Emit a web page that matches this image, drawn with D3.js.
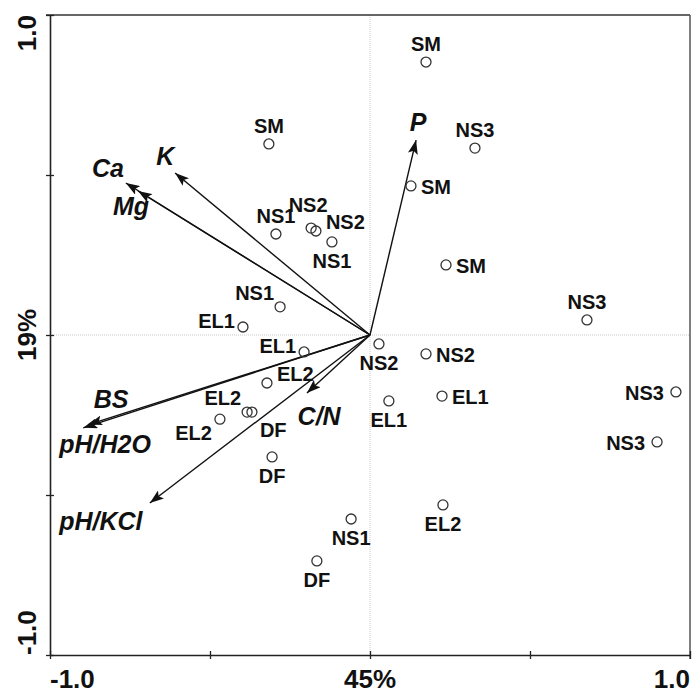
<!DOCTYPE html>
<html lang="en">
<head>
<meta charset="utf-8">
<title>PCA biplot</title>
<script src="https://d3js.org/d3.v7.min.js"></script>
<style>
  body { margin: 0; background: #fff; }
  text { font-family: "Liberation Sans", Arial, sans-serif; font-weight: bold; fill: #111; }
</style>
</head>
<body>
<script>
// sample scores (axis 1, axis 2)
var siteNames = ["SM","NS3","SM","SM","NS3","NS3","NS3","NS2","EL1","EL1","NS2","EL2","NS1","DF",
                 "SM","NS1","NS2","NS2","NS1","NS1","EL1","EL1","EL2","EL2","DF","EL2","DF"];
var siteX = [0.175, 0.328, 0.128, 0.2375, 0.678, 0.956, 0.897, 0.175, 0.225, 0.059, 0.028, 0.228, -0.059, -0.166,
             -0.316, -0.294, -0.184, -0.169, -0.119, -0.281, -0.397, -0.206, -0.322, -0.384, -0.369, -0.469, -0.306];
var siteY = [0.853, 0.584, 0.466, 0.219, 0.047, -0.178, -0.334, -0.059, -0.191, -0.206, -0.028, -0.531, -0.575, -0.706,
             0.597, 0.3156, 0.334, 0.325, 0.291, 0.088, 0.025, -0.053, -0.15, -0.241, -0.241, -0.263, -0.381];
// where each sample label sits around its point
var sitePlace = ["t","t","r","r","t","l","l","r","r","b","b","b","b","b",
                 "t","t","t2","ur","b","tl","ul","ul","ur","tl","br","bl","b"];

// environmental variables (arrow tips) and their label anchors
var varNames = ["P","K","Ca","Mg","BS","pH/H2O","pH/KCl","C/N"];
var varX = [0.144, -0.609, -0.763, -0.725, -0.88, -0.896, -0.688, -0.197];
var varY = [0.609, 0.506, 0.475, 0.450, -0.28, -0.29, -0.525, -0.181];
var varLabelX = [0.15, -0.64, -0.819, -0.747, -0.809, -0.828, -0.841, -0.159];
var varLabelY = [0.6375, 0.531, 0.494, 0.375, -0.228, -0.369, -0.609, -0.281];

var tickVals = [-1, -0.5, 0, 0.5, 1];
var xTickLabels = [{v: -1, t: "-1.0", a: "start"}, {v: 0, t: "45%", a: "middle"}, {v: 1, t: "1.0", a: "end"}];
var yTickLabels = [{v: 1, t: "1.0", a: "end"}, {v: 0, t: "19%", a: "middle"}, {v: -1, t: "-1.0", a: "start"}];

var width = 693, height = 693;
var svg = d3.select("body").append("svg")
    .attr("width", width)
    .attr("height", height);

var x = d3.scaleLinear().domain([-1, 1]).range([50, 690]);
var y = d3.scaleLinear().domain([-1, 1]).range([655, 15]);

// arrow head
svg.append("defs").append("marker")
    .attr("id", "head")
    .attr("markerUnits", "userSpaceOnUse")
    .attr("viewBox", "0 0 14 10")
    .attr("refX", 14)
    .attr("refY", 5)
    .attr("markerWidth", 14)
    .attr("markerHeight", 10)
    .attr("orient", "auto")
  .append("path")
    .attr("d", "M0,0 L14,5 L0,10 L3,5 Z")
    .attr("fill", "#111");

// zero lines (dotted)
svg.append("line")
    .attr("x1", x(0)).attr("x2", x(0))
    .attr("y1", y(1)).attr("y2", y(-1))
    .attr("stroke", "#c8c8c8").attr("stroke-width", 1)
    .attr("stroke-dasharray", "1,1");
svg.append("line")
    .attr("x1", x(-1)).attr("x2", x(1))
    .attr("y1", y(0)).attr("y2", y(0))
    .attr("stroke", "#c8c8c8").attr("stroke-width", 1)
    .attr("stroke-dasharray", "1,1");

// frame: top and right
svg.append("line")
    .attr("x1", x(-1) - 4).attr("x2", x(1))
    .attr("y1", y(1)).attr("y2", y(1))
    .attr("stroke", "#333").attr("stroke-width", 1.5);
svg.append("line")
    .attr("x1", x(1)).attr("x2", x(1))
    .attr("y1", y(1)).attr("y2", y(-1) + 4)
    .attr("stroke", "#555").attr("stroke-width", 1.5);

// bottom axis with crossing ticks
var gx = svg.append("g")
    .attr("transform", "translate(0," + y(-1) + ")")
    .call(d3.axisBottom(x).tickValues(tickVals).tickSize(4).tickSizeOuter(0).tickFormat(""));
gx.select(".domain").attr("stroke", "#222").attr("stroke-width", 1.6);
gx.selectAll(".tick line").attr("y1", -4).attr("y2", 4).attr("stroke", "#222").attr("stroke-width", 1.3);

// left axis with crossing ticks
var gy = svg.append("g")
    .attr("transform", "translate(" + x(-1) + ",0)")
    .call(d3.axisLeft(y).tickValues(tickVals).tickSize(4).tickSizeOuter(0).tickFormat(""));
gy.select(".domain").attr("stroke", "#222").attr("stroke-width", 1.6);
gy.selectAll(".tick line").attr("x1", -4).attr("x2", 4).attr("stroke", "#222").attr("stroke-width", 1.3);

// tick labels
svg.selectAll(".xlab")
    .data(xTickLabels)
  .enter().append("text")
    .attr("class", "xlab")
    .attr("x", function(d) { return x(d.v); })
    .attr("y", 688)
    .attr("text-anchor", function(d) { return d.a; })
    .attr("font-size", "26px")
    .text(function(d) { return d.t; });

svg.selectAll(".ylab")
    .data(yTickLabels)
  .enter().append("text")
    .attr("class", "ylab")
    .attr("transform", function(d) { return "translate(36," + y(d.v) + ") rotate(-90)"; })
    .attr("text-anchor", function(d) { return d.a; })
    .attr("font-size", "26px")
    .text(function(d) { return d.t; });

// arrows
svg.selectAll(".arrow")
    .data(varNames)
  .enter().append("line")
    .attr("class", "arrow")
    .attr("x1", x(0)).attr("y1", y(0))
    .attr("x2", function(d, i) { return x(varX[i]); })
    .attr("y2", function(d, i) { return y(varY[i]); })
    .attr("stroke", "#111")
    .attr("stroke-width", 1.4)
    .attr("marker-end", "url(#head)");

svg.selectAll(".varlab")
    .data(varNames)
  .enter().append("text")
    .attr("class", "varlab")
    .attr("x", function(d, i) { return x(varLabelX[i]); })
    .attr("y", function(d, i) { return y(varLabelY[i]); })
    .attr("text-anchor", "middle")
    .attr("font-size", "25px")
    .attr("font-style", "italic")
    .text(function(d) { return d; });

// sample points
svg.selectAll(".site")
    .data(siteNames)
  .enter().append("circle")
    .attr("class", "site")
    .attr("cx", function(d, i) { return x(siteX[i]); })
    .attr("cy", function(d, i) { return y(siteY[i]); })
    .attr("r", 5)
    .attr("fill", "none")
    .attr("stroke", "#333")
    .attr("stroke-width", 1.3);

var place = {
  t:  {a: "middle", dx: 0,   dy: -11},
  t2: {a: "middle", dx: -3,  dy: -16},
  b:  {a: "middle", dx: 0,   dy: 26},
  r:  {a: "start",  dx: 10,  dy: 8},
  l:  {a: "end",    dx: -12, dy: 8},
  ur: {a: "start",  dx: 10,  dy: -2},
  ul: {a: "end",    dx: -8,  dy: 1},
  tl: {a: "end",    dx: -6,  dy: -7},
  br: {a: "start",  dx: 8,   dy: 25},
  bl: {a: "end",    dx: -8,  dy: 21}
};

svg.selectAll(".sitelab")
    .data(siteNames)
  .enter().append("text")
    .attr("class", "sitelab")
    .attr("x", function(d, i) { return x(siteX[i]) + place[sitePlace[i]].dx; })
    .attr("y", function(d, i) { return y(siteY[i]) + place[sitePlace[i]].dy; })
    .attr("text-anchor", function(d, i) { return place[sitePlace[i]].a; })
    .attr("font-size", "20px")
    .text(function(d) { return d; });
</script>
</body>
</html>
